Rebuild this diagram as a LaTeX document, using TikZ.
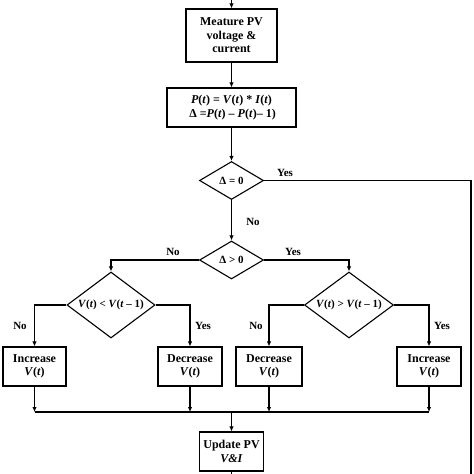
\documentclass[tikz,border=0pt]{standalone}
\usepackage{fontspec}
\setmainfont{Liberation Serif}
\usetikzlibrary{shapes.geometric,arrows.meta}
\tikzset{
  ln/.style={line width=1.1pt},
  arr/.style={ln,-{Latex[length=5pt,width=4.5pt]}},
  procbox/.style={draw,ln,rectangle,inner sep=0pt,align=center,font=\fontsize{12}{13.5}\selectfont\bfseries},
  dia/.style={draw,ln,diamond,inner sep=0pt},
  diatext/.style={font=\fontsize{11}{13}\selectfont\bfseries},
  lbl/.style={font=\fontsize{11}{13}\selectfont\bfseries}
}
\newcommand{\bi}[1]{\textbf{\textit{#1}}}
\begin{document}
\begin{tikzpicture}[x=1pt,y=-1pt]
\useasboundingbox (0,0) rectangle (474,474);
% nodes
\node[procbox,minimum width=91pt,minimum height=53pt] (b1) at (231.5,35.5) {Meature PV\\voltage \&\\current};
\node[procbox,minimum width=129pt,minimum height=39pt] (b2) at (231.5,107.5) {\bi{P}(\bi{t}) = \bi{V}(\bi{t}) * \bi{I}(\bi{t})\\ \,Δ =\bi{P}(\bi{t}) – \bi{P}(\bi{t})– 1)};
\node[dia,minimum width=64pt,minimum height=38pt] (d1) at (231.5,180.5) {};
\node[diatext] at (d1) {Δ = 0};
\node[dia,minimum width=64pt,minimum height=38pt] (d2) at (231.5,260) {};
\node[diatext] at (d2) {Δ > 0};
\node[dia,minimum width=88pt,minimum height=66pt] (d3) at (111,305) {};
\node[diatext] at (d3) {\bi{V}(\bi{t}) < \bi{V}(\bi{t} – 1)};
\node[dia,minimum width=89pt,minimum height=66pt] (d4) at (349,305) {};
\node[diatext] at (d4) {\bi{V}(\bi{t}) > \bi{V}(\bi{t} – 1)};
\node[procbox,minimum width=63pt,minimum height=39pt] (b3) at (34.5,366.5) {Increase\\\bi{V}(\bi{t})};
\node[procbox,minimum width=64pt,minimum height=39pt] (b4) at (190,366.5) {Decrease\\\bi{V}(\bi{t})};
\node[procbox,minimum width=66pt,minimum height=39pt] (b5) at (269,366.5) {Decrease\\\bi{V}(\bi{t})};
\node[procbox,minimum width=64pt,minimum height=39pt] (b6) at (429,366.5) {Increase\\\bi{V}(\bi{t})};
\node[procbox,minimum width=64pt,minimum height=39pt] (b7) at (231.5,451.5) {Update PV\\\bi{V\&I}};
% coordinates
\coordinate (top) at (231.5,0);
\coordinate (rt) at (471,180.5);
\coordinate (rb) at (471,474);
\coordinate (bot) at (231.5,474);
\coordinate (j3) at (34.5,412);
\coordinate (j4) at (190,412);
\coordinate (j5) at (269,412);
\coordinate (j6) at (429,412);
\coordinate (jm) at (231.5,412);
% connectors
\draw[arr] (top) -- (b1.north);
\draw[arr] (b1.south) -- (b2.north);
\draw[arr] (b2.south) -- (d1.north);
\draw[ln] (d1.east) -- (rt) -- (rb);
\draw[arr] (d1.south) -- (d2.north);
\draw[arr] (d2.west) -| (d3.north);
\draw[arr] (d2.east) -| (d4.north);
\draw[arr] (d3.west) -| (b3.north);
\draw[arr] (d3.east) -| (b4.north);
\draw[arr] (d4.west) -| (b5.north);
\draw[arr] (d4.east) -| (b6.north);
\draw[arr] (b3.south) -- (j3);
\draw[arr] (b4.south) -- (j4);
\draw[arr] (b5.south) -- (j5);
\draw[arr] (b6.south) -- (j6);
\draw[ln] (j3) -- (j6);
\draw[arr] (jm) -- (b7.north);
\draw[ln] (b7.south) -- (bot);
% labels
\node[lbl] at (285,173) {Yes};
\node[lbl] at (253,222) {No};
\node[lbl] at (173,252) {No};
\node[lbl] at (293,252) {Yes};
\node[lbl] at (20,326) {No};
\node[lbl] at (203,326) {Yes};
\node[lbl] at (256,326) {No};
\node[lbl] at (442,326) {Yes};
\end{tikzpicture}
\end{document}
